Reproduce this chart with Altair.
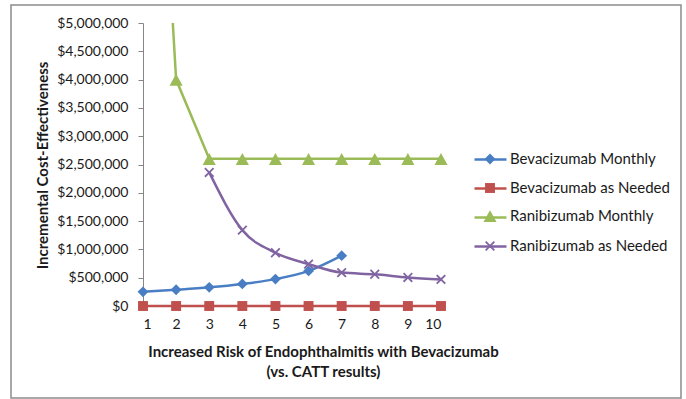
import altair as alt
import pandas as pd

# ---- data ----
x_vals = [1, 2, 3, 4, 5, 6, 7, 8, 9, 10]
series_names = ["Bevacizumab Monthly", "Bevacizumab as Needed",
                "Ranibizumab Monthly", "Ranibizumab as Needed"]
series_codes = ["A", "B", "C", "D"]
bev_monthly = [250000, 287000, 330000, 390000, 475000, 620000, 890000, None, None, None]
bev_needed = [0, 0, 0, 0, 0, 0, 0, 0, 0, 0]
ran_monthly = [14000000, 4000000, 2600000, 2600000, 2600000, 2600000, 2600000, 2600000, 2600000, 2600000]
ran_needed = [None, None, 2360000, 1340000, 940000, 740000, 590000, 560000, 505000, 470000]
y_ticks = [0, 500000, 1000000, 1500000, 2000000, 2500000,
           3000000, 3500000, 4000000, 4500000, 5000000]
x_title = ["Increased Risk of Endophthalmitis with Bevacizumab", "(vs. CATT results)"]
y_title = "Incremental Cost-Effectiveness"
y_max = 5000000

colors = ["#4A7EC4", "#C0504D", "#9BBB59", "#8064A2"]
marker_paths = [
    "M0,-0.34L0.34,0L0,0.34L-0.34,0Z",
    "M-0.31,-0.31L0.31,-0.31L0.31,0.31L-0.31,0.31Z",
    "M0,-0.36L0.41,0.38L-0.41,0.38Z",
    "M-0.31,-0.23L-0.23,-0.31L0,-0.08L0.23,-0.31L0.31,-0.23L0.08,0L0.31,0.23L0.23,0.31L0,0.08L-0.23,0.31L-0.31,0.23L-0.08,0Z",
]

rows = []
for name, code, vals in zip(series_names, series_codes,
                            [bev_monthly, bev_needed, ran_monthly, ran_needed]):
    for xv, v in zip(x_vals, vals):
        if v is None:
            continue
        rows.append({"x": xv, "value": v, "series": name, "code": code})
df = pd.DataFrame(rows)

FONT = "Lato"
FS = 15
FS_Y = 14
AXIS_GRAY = "#868686"
TXT = "#1a1a1a"

x_enc = alt.X("x:Q",
              scale=alt.Scale(domain=[1, 10], nice=False, zero=False),
              axis=alt.Axis(values=x_vals, format="d", ticks=False, grid=False,
                            domainColor=AXIS_GRAY, domainWidth=1,
                            labelFont=FONT, labelFontSize=FS_Y, labelColor=TXT,
                            labelPadding=11,
                            title=x_title, titleFont=FONT, titleFontSize=FS,
                            titleFontWeight="bold", titleColor=TXT,
                            titleX=180, titleY=38, titleAlign="center",
                            titleBaseline="top", titleLineHeight=20))
y_enc = alt.Y("value:Q",
              scale=alt.Scale(domain=[0, y_max], nice=False),
              axis=alt.Axis(values=y_ticks, format="$,.0f", grid=False,
                            tickSize=5, tickColor=AXIS_GRAY, domainColor=AXIS_GRAY,
                            labelFont=FONT, labelFontSize=FS_Y, labelColor=TXT,
                            labelPadding=10,
                            title=y_title, titleFont=FONT, titleFontSize=FS,
                            titleFontWeight="bold", titleColor=TXT,
                            titleX=-101, titleY=142, titleAngle=270,
                            titleAlign="center", titleBaseline="middle"))

base = alt.Chart(df).encode(x=x_enc, y=y_enc)

legend_common = dict(title=None, orient="none", padding=0, symbolSize=1024,
                     labelFont=FONT, labelFontSize=FS, labelColor=TXT,
                     rowPadding=3, labelOffset=3, legendX=330, legendY=119)

stroke_enc = alt.Stroke("code:N",
                        scale=alt.Scale(domain=series_codes, range=colors),
                        legend=alt.Legend(symbolType="stroke", symbolStrokeWidth=2.5,
                                          labelExpr="''", **legend_common))

def only(names):
    return alt.FieldOneOfPredicate(field="series", oneOf=names)

# line that runs off the top of the axis is clipped; the others are not
lines_clipped = base.transform_filter(only([series_names[2]])).mark_line(
    strokeWidth=2.5, clip=True).encode(stroke=stroke_enc)
lines_flat = base.transform_filter(only([series_names[1]])).mark_line(
    strokeWidth=2.5, clip=False).encode(stroke=stroke_enc)
lines_smooth = base.transform_filter(only([series_names[0], series_names[3]])).mark_line(
    strokeWidth=2.5, clip=False, interpolate="monotone").encode(stroke=stroke_enc)

pt_legend = alt.Legend(**legend_common)
points = base.transform_filter(alt.datum.value <= y_max).mark_point(
    filled=True, size=1024, opacity=1, strokeWidth=0).encode(
    fill=alt.Fill("series:N", scale=alt.Scale(domain=series_names, range=colors), legend=pt_legend),
    shape=alt.Shape("series:N", scale=alt.Scale(domain=series_names, range=marker_paths), legend=pt_legend),
)

frame = alt.Chart(pd.DataFrame({"k": [0]})).mark_rect(
    fill=None, stroke="#8c8c8c", strokeWidth=1.5, clip=False
).encode(x=alt.value(-132), x2=alt.value(538), y=alt.value(-18), y2=alt.value(375))

chart = alt.layer(frame, lines_flat, lines_smooth, lines_clipped, points).properties(
    width=298, height=283,
    autosize=alt.AutoSizeParams(type="none"),
    padding={"left": 143, "top": 23, "right": 245, "bottom": 93},
    background="white",
).configure_view(stroke=None)

chart.save("out.html", embed_options={"renderer": "svg", "actions": False})
